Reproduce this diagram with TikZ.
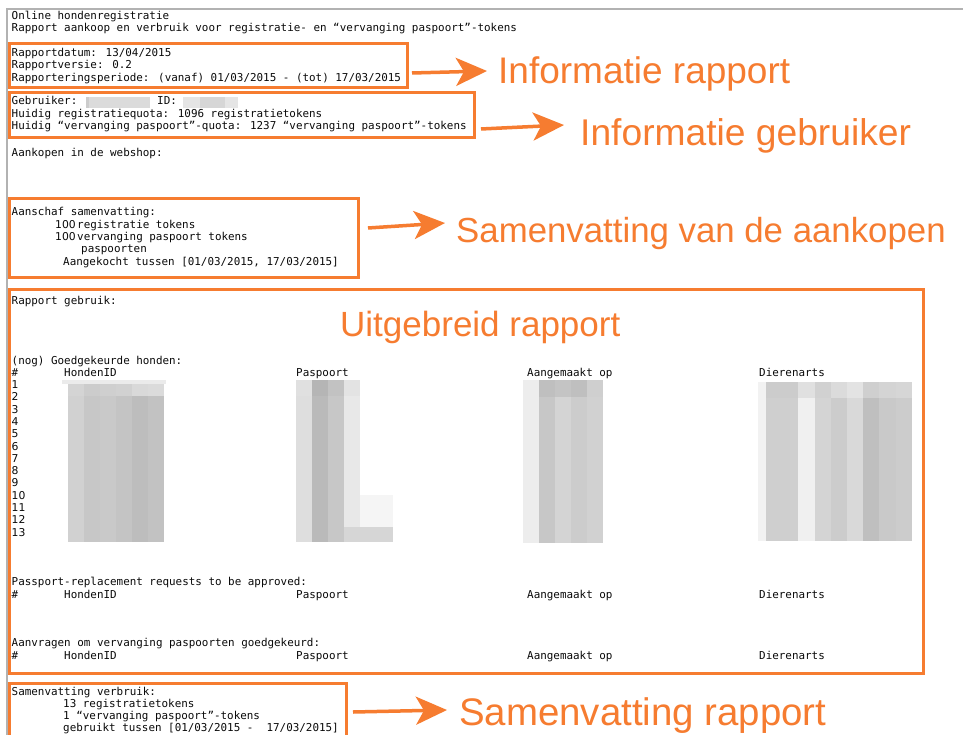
\documentclass[tikz,border=0pt]{standalone}
\usepackage{fontspec}
\usetikzlibrary{arrows.meta}
\newfontfamily\monof{DejaVu Sans Mono}
\newfontfamily\digf{DejaVu Sans}
\newfontfamily\labf{Liberation Sans}
\definecolor{org}{RGB}{246,124,48}
\definecolor{ink}{RGB}{10,10,10}
\begin{document}
\begin{tikzpicture}[x=1pt,y=-1pt,
 mono/.style={font=\monof\fontsize{10.9}{12}\selectfont, text=ink, anchor=base west, inner sep=0pt},
 dig/.style={font=\digf\fontsize{10.8}{12}\selectfont, text=ink, anchor=base west, inner sep=0pt},
 lab/.style={font=\labf\fontsize{#1}{40}\selectfont, text=org, anchor=base west, inner sep=0pt},
 obox/.style={draw=org, line width=3pt},
 arr/.style={draw=org, line width=3.5pt, -{Stealth[length=31pt,width=28pt,inset=8pt]}},
 frame/.style={draw=black!30, line width=1.5pt}]
\useasboundingbox (0,0) rectangle (963,735);
\fill[white] (0,0) rectangle (963,735);
\draw[frame] (7,735) -- (7,9) -- (963,9);

% blurred blocks
\fill[black!14] (86,97) rectangle (150,108);
\fill[black!20] (86,97) rectangle (89,108);
\fill[black!10] (183,97) rectangle (238,108);
\fill[black!16] (200,97) rectangle (225,108);
% HondenID column
\fill[black!8] (62,380) rectangle (166,384);
\foreach \p [count=\i from 0] in {18,22,21,23,26,24} \fill[black!\p] ({68+16*\i},396) rectangle ++(16,146);
\foreach \p [count=\i from 0] in {17,20,19,18,15,14} \fill[black!\p] ({68+16*\i},384) rectangle ++(16,12);
% Paspoort column
\foreach \p [count=\i from 0] in {13,27,22,9} \fill[black!\p] ({296+16*\i},396) rectangle ++(16,146);
\foreach \p [count=\i from 0] in {12,29,24,11} \fill[black!\p] ({296+16*\i},380) rectangle ++(16,16);
\fill[black!16] (344,527) rectangle (393,542);
\fill[black!4] (360,495) rectangle (393,527);
% Aangemaakt column
\foreach \p [count=\i from 0] in {7,22,17,20,18} \fill[black!\p] ({523+16*\i},397) rectangle ++(16,146);
\foreach \p [count=\i from 0] in {7,25,23,25,19} \fill[black!\p] ({523+16*\i},380) rectangle ++(16,17);
% Dierenarts column
\fill[black!5] (758,382) rectangle (766,541);
\foreach \p [count=\i from 0] in {19,19,6,17,20,15,25,21,20} \fill[black!\p] ({766+16.2*\i},398) rectangle ++(16.2,143);
\foreach \p [count=\i from 0] in {20,20,12,18,14,11,19,17,16} \fill[black!\p] ({766+16.2*\i},382) rectangle ++(16.2,16);

% orange boxes
\draw[obox] (9,44) rectangle (407,88);
\draw[obox] (9,93) rectangle (474,138);
\draw[obox] (9,199) rectangle (358,277);
\draw[obox] (9,289) rectangle (923,673);
\draw[obox] (9,740) -- (9,683) -- (346,683) -- (346,740);

% header
\node[mono] (h1) at (11.5,19.5) {Online hondenregistratie};
\node[mono] (h2) at (11.5,31.5) {Rapport aankoop en verbruik voor registratie- en “vervanging paspoort”-tokens};
% box1
\node[mono] (i1) at (11.5,56.5) {Rapportdatum: 13/04/2015};
\node[mono] (i2) at (11.5,68.8) {Rapportversie: 0.2};
\node[mono] (i3) at (11.5,81.1) {Rapporteringsperiode: (vanaf) 01/03/2015 - (tot) 17/03/2015};
% box2
\node[mono] (g1) at (11.5,105) {Gebruiker:};
\node[mono] (g1b) at (157,105) {ID:};
\node[mono] (g2) at (11.5,117.3) {Huidig registratiequota: 1096 registratietokens};
\node[mono] (g3) at (11.5,129.6) {Huidig “vervanging paspoort”-quota: 1237 “vervanging paspoort”-tokens};
\node[mono] (w1) at (11.5,156.5) {Aankopen in de webshop:};
% box3
\node[mono] (s1) at (11.5,216) {Aanschaf samenvatting:};
\node[dig] (s2n) at (55,228.3) {100};
\node[mono] (s2) at (77,228.3) {registratie tokens};
\node[dig] (s3n) at (55,240.6) {100};
\node[mono] (s3) at (77,240.6) {vervanging paspoort tokens};
\node[mono] (s4) at (81,252.9) {paspoorten};
\node[mono] (s5) at (63,265.2) {Aangekocht tussen [01/03/2015, 17/03/2015]};
% box4
\node[mono] (u1) at (11.5,304) {Rapport gebruik:};
\node[mono] (u2) at (11.5,364) {(nog) Goedgekeurde honden:};
\node[mono] (c0) at (11.5,376) {\#};
\node[mono] (c1) at (64,376) {HondenID};
\node[mono] (c2) at (296,376) {Paspoort};
\node[mono] (c3) at (527,376) {Aangemaakt op};
\node[mono] (c4) at (759,376) {Dierenarts};
\foreach \n [count=\k from 0] in {1,...,13} \node[dig] (r\n) at (11.5,{388.5+12.3*\k}) {\n};
\node[mono] (p1) at (11.5,585) {Passport-replacement requests to be approved:};
\node[mono] (p0) at (11.5,598) {\#};
\node[mono] (pc1) at (64,598) {HondenID};
\node[mono] (pc2) at (296,598) {Paspoort};
\node[mono] (pc3) at (527,598) {Aangemaakt op};
\node[mono] (pc4) at (759,598) {Dierenarts};
\node[mono] (v1) at (11.5,646) {Aanvragen om vervanging paspoorten goedgekeurd:};
\node[mono] (v0) at (11.5,659) {\#};
\node[mono] (vc1) at (64,659) {HondenID};
\node[mono] (vc2) at (296,659) {Paspoort};
\node[mono] (vc3) at (527,659) {Aangemaakt op};
\node[mono] (vc4) at (759,659) {Dierenarts};
% box5
\node[mono] (z1) at (11.5,695) {Samenvatting verbruik:};
\node[mono] (z2) at (63,707) {13 registratietokens};
\node[mono] (z3) at (63,719) {1 “vervanging paspoort”-tokens};
\node[mono] (z4) at (63,731) {gebruikt tussen [01/03/2015 - \ 17/03/2015]};

% labels
\node[lab=37] (L1) at (498,84) {Informatie rapport};
\node[lab=37.2] (L2) at (580,146) {Informatie gebruiker};
\node[lab=34.8] (L3) at (456,242.5) {Samenvatting van de aankopen};
\node[lab=35] (L4) at (340,336.5) {Uitgebreid rapport};
\node[lab=38.4] (L5) at (459,725.5) {Samenvatting rapport};

% arrows
\coordinate (a1s) at (412,73); \coordinate (a1e) at (487,71);
\coordinate (a2s) at (481,129); \coordinate (a2e) at (564,125);
\coordinate (a3s) at (368,228); \coordinate (a3e) at (445,223);
\coordinate (a5s) at (353,712); \coordinate (a5e) at (447,710);
\draw[arr] (a1s) -- (a1e);
\draw[arr] (a2s) -- (a2e);
\draw[arr] (a3s) -- (a3e);
\draw[arr] (a5s) -- (a5e);
\end{tikzpicture}
\end{document}
